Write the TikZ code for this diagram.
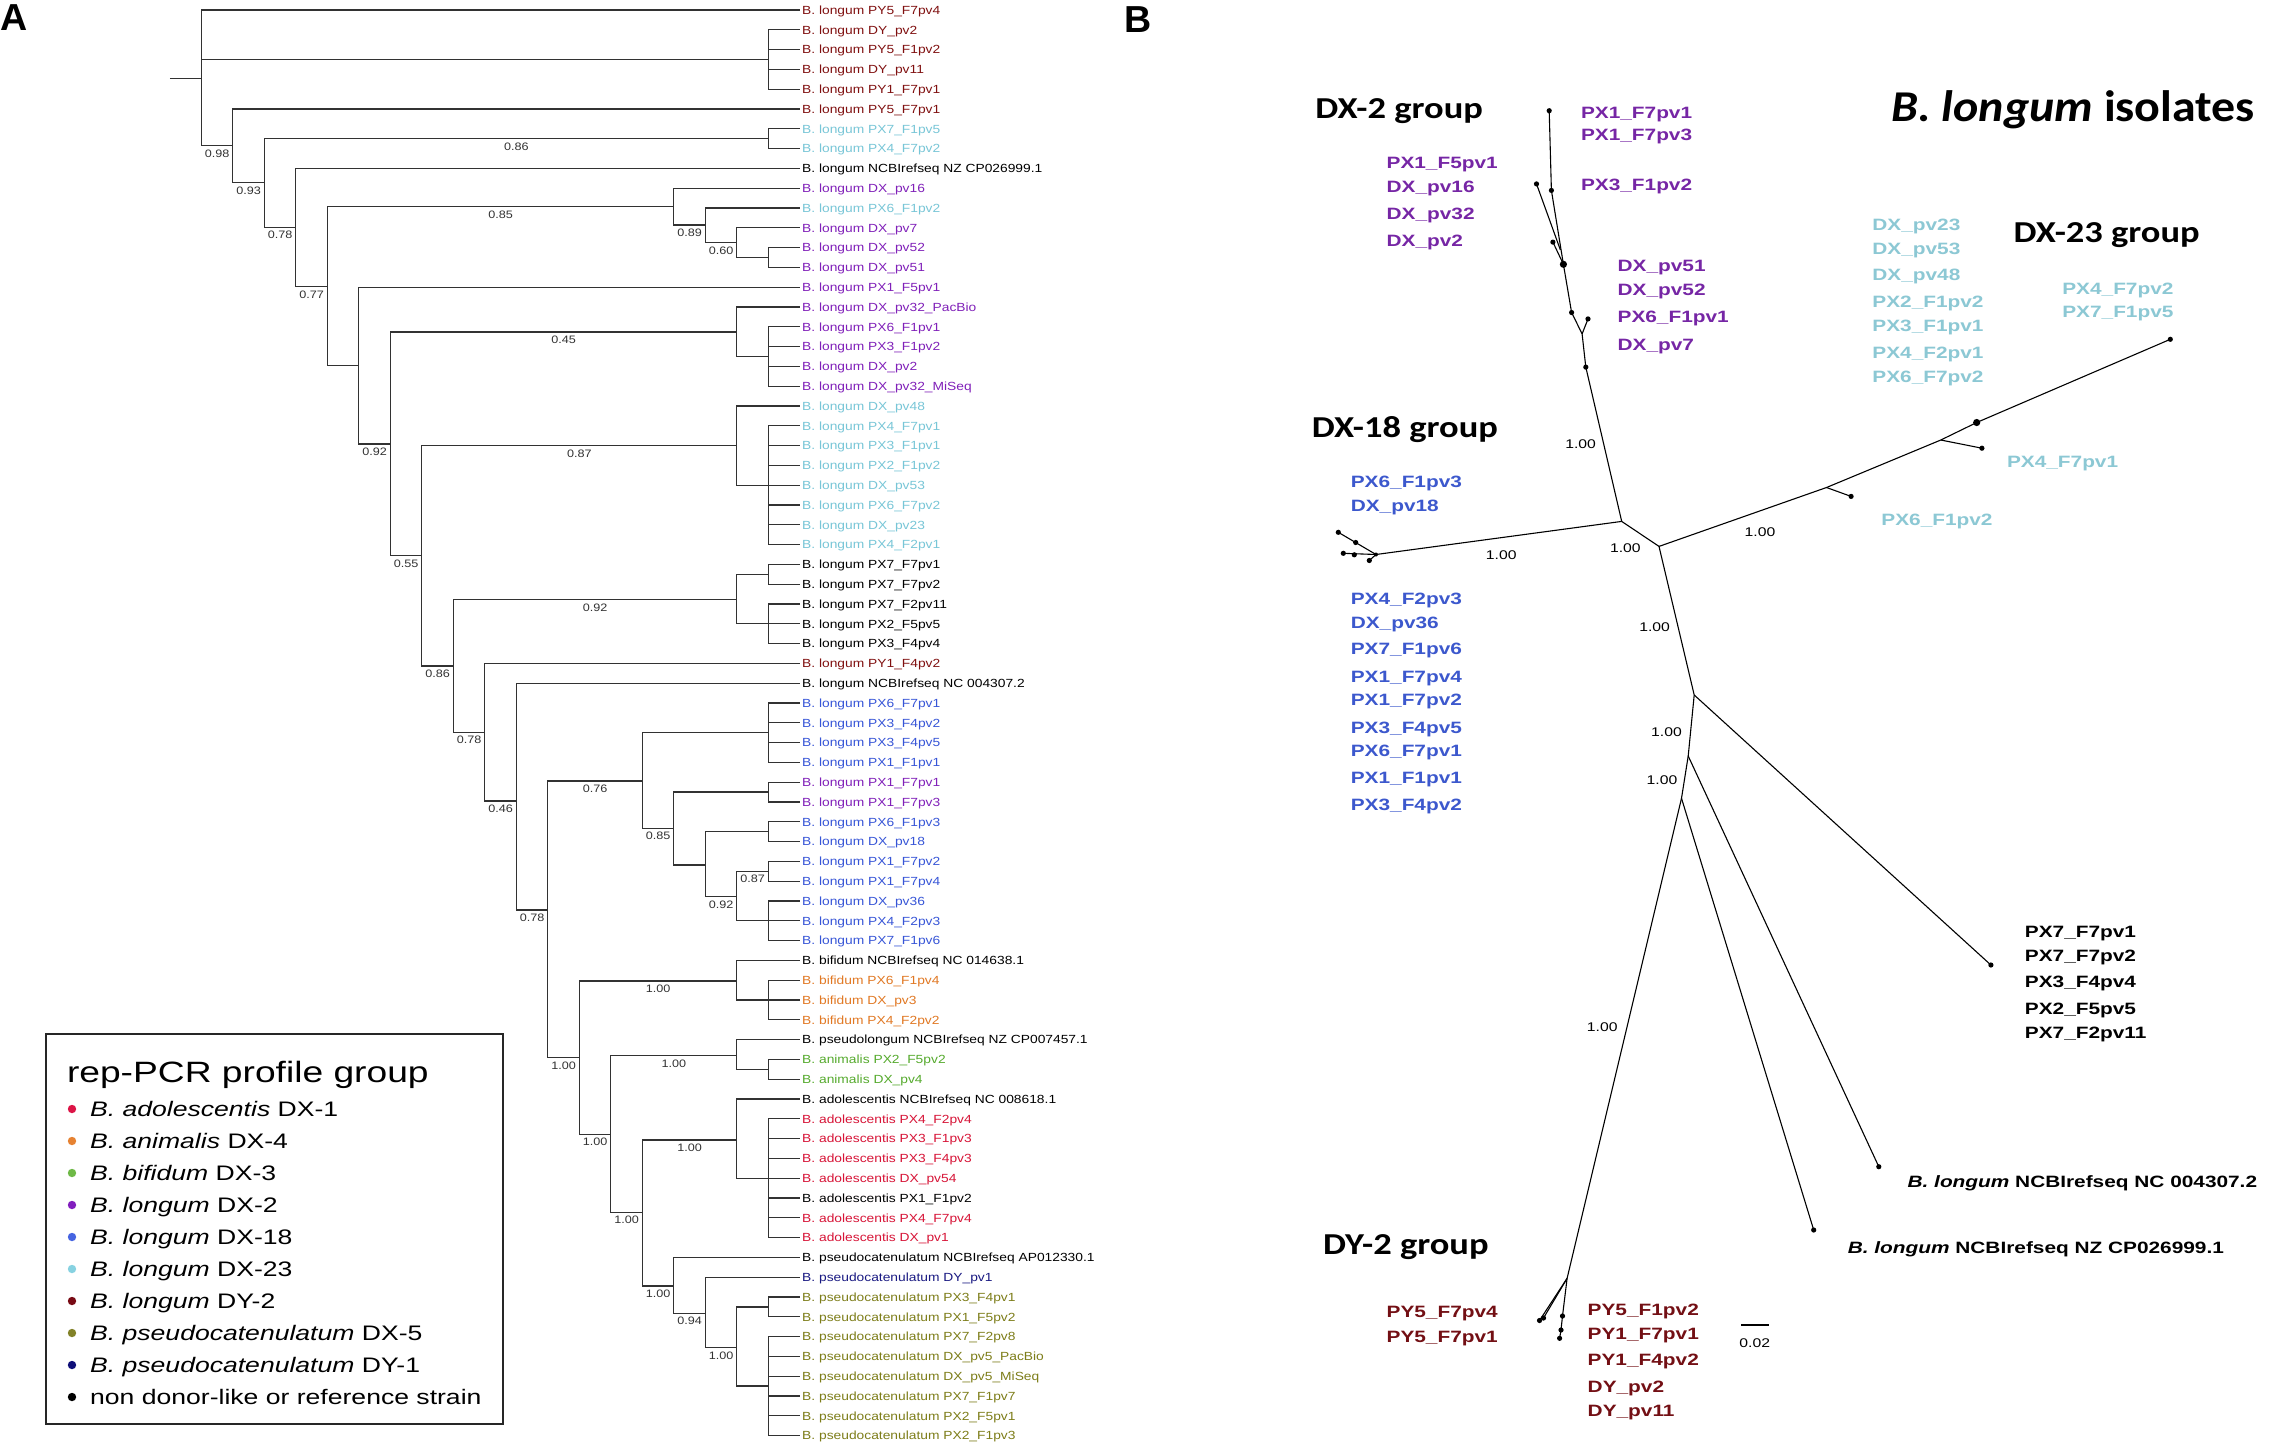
\documentclass[tikz,border=0pt]{standalone}
\usepackage{fontspec}
\setmainfont{Liberation Sans}
\newfontfamily\famPA[FakeStretch=1.17]{Liberation Sans}
\newfontfamily\famLeg[FakeStretch=1.265]{Liberation Sans}
\newfontfamily\famPB[FakeStretch=1.27]{Liberation Sans}
\newfontfamily\famPBn[FakeStretch=1.25]{Liberation Sans}
\newfontfamily\famGrp[FakeStretch=1.2]{Carlito}
\newfontfamily\famTtl[FakeStretch=1.09]{Carlito}
\usetikzlibrary{calc}
\definecolor{brgray}{RGB}{50,50,50}
\definecolor{cDYr}{RGB}{128,16,16}
\definecolor{cLB}{RGB}{120,198,215}
\definecolor{cPu}{RGB}{128,32,185}
\definecolor{cBl}{RGB}{55,85,215}
\definecolor{cOr}{RGB}{225,120,35}
\definecolor{cGr}{RGB}{85,170,45}
\definecolor{cRd}{RGB}{215,20,55}
\definecolor{cOl}{RGB}{125,125,25}
\definecolor{cNv}{RGB}{25,25,130}
\definecolor{cBk}{RGB}{0,0,0}
\definecolor{bPu}{RGB}{118,38,165}
\definecolor{bLB}{RGB}{140,200,212}
\definecolor{bBl}{RGB}{60,88,205}
\definecolor{bDYr}{RGB}{115,15,20}
\definecolor{lRd}{RGB}{220,20,70}
\definecolor{lOr}{RGB}{230,130,50}
\definecolor{lGr}{RGB}{110,185,70}
\definecolor{lPu}{RGB}{130,30,190}
\definecolor{lBl}{RGB}{70,100,225}
\definecolor{lLB}{RGB}{135,210,225}
\definecolor{lDY}{RGB}{120,10,20}
\definecolor{lOl}{RGB}{130,130,40}
\definecolor{lNv}{RGB}{15,15,120}
\tikzset{
  br/.style={draw=brgray,line width=0.65pt},
  bbr/.style={draw=black,line width=0.55pt},
  leafA/.style={anchor=west,inner xsep=1pt,inner ysep=0pt,font=\famPA\fontsize{5.9pt}{6pt}\selectfont,text height=4.22pt,text depth=0pt},
  blA/.style={inner sep=0pt,font=\famPA\fontsize{5.4pt}{6pt}\selectfont,text height=3.87pt,text depth=0pt,text=brgray},
  legE/.style={anchor=west,inner sep=0pt,font=\famLeg\fontsize{10.5pt}{12pt}\selectfont,text height=7.52pt,text depth=0pt},
  legT/.style={anchor=west,inner sep=0pt,font=\famLeg\fontsize{14.7pt}{16pt}\selectfont,text height=10.5pt,text depth=0pt},
  leafB/.style={anchor=west,inner sep=0pt,font=\famPB\bfseries\fontsize{8.2pt}{9pt}\selectfont,text height=5.87pt,text depth=0pt},
  blB/.style={inner sep=0pt,font=\famPBn\fontsize{6.3pt}{7pt}\selectfont,text height=4.5pt,text depth=0pt},
  grp/.style={anchor=west,inner sep=0pt,font=\famGrp\bfseries\fontsize{15.2pt}{16pt}\selectfont,text height=9.6pt,text depth=0pt},
  ttl/.style={anchor=west,inner sep=0pt,font=\famTtl\bfseries\fontsize{22pt}{24pt}\selectfont,text height=13.9pt,text depth=0pt},
  plet/.style={inner sep=0pt,font=\bfseries\fontsize{18.8pt}{20pt}\selectfont,text height=13.46pt,text depth=0pt},
}
\begin{document}
\begin{tikzpicture}[x=0.5pt,y=-0.5pt]
\fill[white] (0,0) rectangle (2272,1447);
\useasboundingbox (0,0) rectangle (2272,1447);

% ---------------- Panel letters
\node[plet] (letA) at (14,17) {A};
\node[plet] (letB) at (1138,19) {B};

% ---------------- Panel A leaves
\foreach \i/\c/\t in {
1/cDYr/B. longum PY5\_F7pv4,
2/cDYr/B. longum DY\_pv2,
3/cDYr/B. longum PY5\_F1pv2,
4/cDYr/B. longum DY\_pv11,
5/cDYr/B. longum PY1\_F7pv1,
6/cDYr/B. longum PY5\_F7pv1,
7/cLB/B. longum PX7\_F1pv5,
8/cLB/B. longum PX4\_F7pv2,
9/cBk/B. longum NCBIrefseq NZ CP026999.1,
10/cPu/B. longum DX\_pv16,
11/cLB/B. longum PX6\_F1pv2,
12/cPu/B. longum DX\_pv7,
13/cPu/B. longum DX\_pv52,
14/cPu/B. longum DX\_pv51,
15/cPu/B. longum PX1\_F5pv1,
16/cPu/B. longum DX\_pv32\_PacBio,
17/cPu/B. longum PX6\_F1pv1,
18/cPu/B. longum PX3\_F1pv2,
19/cPu/B. longum DX\_pv2,
20/cPu/B. longum DX\_pv32\_MiSeq,
21/cLB/B. longum DX\_pv48,
22/cLB/B. longum PX4\_F7pv1,
23/cLB/B. longum PX3\_F1pv1,
24/cLB/B. longum PX2\_F1pv2,
25/cLB/B. longum DX\_pv53,
26/cLB/B. longum PX6\_F7pv2,
27/cLB/B. longum DX\_pv23,
28/cLB/B. longum PX4\_F2pv1,
29/cBk/B. longum PX7\_F7pv1,
30/cBk/B. longum PX7\_F7pv2,
31/cBk/B. longum PX7\_F2pv11,
32/cBk/B. longum PX2\_F5pv5,
33/cBk/B. longum PX3\_F4pv4,
34/cDYr/B. longum PY1\_F4pv2,
35/cBk/B. longum NCBIrefseq NC 004307.2,
36/cBl/B. longum PX6\_F7pv1,
37/cBl/B. longum PX3\_F4pv2,
38/cBl/B. longum PX3\_F4pv5,
39/cBl/B. longum PX1\_F1pv1,
40/cPu/B. longum PX1\_F7pv1,
41/cPu/B. longum PX1\_F7pv3,
42/cBl/B. longum PX6\_F1pv3,
43/cBl/B. longum DX\_pv18,
44/cBl/B. longum PX1\_F7pv2,
45/cBl/B. longum PX1\_F7pv4,
46/cBl/B. longum DX\_pv36,
47/cBl/B. longum PX4\_F2pv3,
48/cBl/B. longum PX7\_F1pv6,
49/cBk/B. bifidum NCBIrefseq NC 014638.1,
50/cOr/B. bifidum PX6\_F1pv4,
51/cOr/B. bifidum DX\_pv3,
52/cOr/B. bifidum PX4\_F2pv2,
53/cBk/B. pseudolongum NCBIrefseq NZ CP007457.1,
54/cGr/B. animalis PX2\_F5pv2,
55/cGr/B. animalis DX\_pv4,
56/cBk/B. adolescentis NCBIrefseq NC 008618.1,
57/cRd/B. adolescentis PX4\_F2pv4,
58/cRd/B. adolescentis PX3\_F1pv3,
59/cRd/B. adolescentis PX3\_F4pv3,
60/cRd/B. adolescentis DX\_pv54,
61/cBk/B. adolescentis PX1\_F1pv2,
62/cRd/B. adolescentis PX4\_F7pv4,
63/cRd/B. adolescentis DX\_pv1,
64/cBk/B. pseudocatenulatum NCBIrefseq AP012330.1,
65/cNv/B. pseudocatenulatum DY\_pv1,
66/cOl/B. pseudocatenulatum PX3\_F4pv1,
67/cOl/B. pseudocatenulatum PX1\_F5pv2,
68/cOl/B. pseudocatenulatum PX7\_F2pv8,
69/cOl/B. pseudocatenulatum DX\_pv5\_PacBio,
70/cOl/B. pseudocatenulatum DX\_pv5\_MiSeq,
71/cOl/B. pseudocatenulatum PX7\_F1pv7,
72/cOl/B. pseudocatenulatum PX2\_F5pv1,
73/cOl/B. pseudocatenulatum PX2\_F1pv3}
{
  \coordinate (t\i) at (799.8,{10+19.8*(\i-1)});
  \node[leafA,text=\c] (L\i) at (t\i) {\t};
}

% ---------------- Panel A internal nodes
\coordinate (rootstub) at (169.8,78.3);
\coordinate (root) at (201.3,78.3);
\coordinate (nDY) at (768.3,59.5);
\coordinate (n098) at (232.8,145.7);
\coordinate (n093) at (264.3,182.7);
\coordinate (n086a) at (768.3,138.7);
\coordinate (n078a) at (295.8,227.3);
\coordinate (n077) at (327.3,286.7);
\coordinate (n085) at (673.8,206.7);
\coordinate (n089) at (705.3,225);
\coordinate (n060) at (736.8,242.7);
\coordinate (n5251) at (768.3,257.5);
\coordinate (nX5) at (358.8,365.7);
\coordinate (n092a) at (390.3,444);
\coordinate (n045) at (736.8,332);
\coordinate (nDX2) at (768.3,356.5);
\coordinate (n055) at (421.8,555.7);
\coordinate (n087) at (736.8,445.7);
\coordinate (nDX23) at (768.3,485.2);
\coordinate (n086b) at (453.3,666);
\coordinate (n092b) at (736.8,599.7);
\coordinate (nPX7a) at (768.3,574.3);
\coordinate (nPX7b) at (768.3,623.8);
\coordinate (n078b) at (484.8,732.3);
\coordinate (n046) at (516.3,801);
\coordinate (n078c) at (547.8,910);
\coordinate (n076) at (642.3,781);
\coordinate (nC18) at (768.3,732.7);
\coordinate (n085b) at (673.8,828.3);
\coordinate (nD18) at (768.3,792.1);
\coordinate (nE18) at (705.3,865);
\coordinate (nF18) at (768.3,831.7);
\coordinate (n092c) at (736.8,896.7);
\coordinate (n087b) at (768.3,871.3);
\coordinate (nG18) at (768.3,920.8);
\coordinate (n100a) at (579.3,1057.7);
\coordinate (n100b) at (736.8,981);
\coordinate (nBif) at (768.3,1000);
\coordinate (n100c) at (610.8,1134.3);
\coordinate (n100d) at (736.8,1055.7);
\coordinate (nAni) at (768.3,1069.3);
\coordinate (n100e) at (642.3,1212.3);
\coordinate (n100f) at (736.8,1140);
\coordinate (nAdo) at (768.3,1178.2);
\coordinate (n100g) at (673.8,1286);
\coordinate (n094) at (705.3,1313.3);
\coordinate (n100h) at (736.8,1347.7);
\coordinate (nPc1) at (768.3,1306.9);
\coordinate (nPc2) at (768.3,1386.1);

\draw[br] (rootstub) -- (root);
\foreach \p/\c in {root/t1,root/nDY,root/n098,n098/t6,n098/n093,n093/n086a,n093/n078a,
  n086a/t7,n086a/t8,n078a/t9,n078a/n077,n077/n085,n077/nX5,n085/t10,n085/n089,
  n089/t11,n089/n060,n060/t12,n060/n5251,n5251/t13,n5251/t14,nX5/t15,nX5/n092a,
  n092a/n045,n092a/n055,n045/t16,n045/nDX2,n055/n087,n055/n086b,n087/t21,n087/nDX23,
  n086b/n092b,n086b/n078b,n092b/nPX7a,n092b/nPX7b,nPX7a/t29,nPX7a/t30,
  n078b/t34,n078b/n046,n046/t35,n046/n078c,n078c/n076,n078c/n100a,n076/nC18,n076/n085b,
  n085b/nD18,n085b/nE18,nD18/t40,nD18/t41,nE18/nF18,nE18/n092c,nF18/t42,nF18/t43,
  n092c/n087b,n092c/nG18,n087b/t44,n087b/t45,n100a/n100b,n100a/n100c,n100b/t49,n100b/nBif,
  n100c/n100d,n100c/n100e,n100d/t53,n100d/nAni,nAni/t54,nAni/t55,n100e/n100f,n100e/n100g,
  n100f/t56,n100f/nAdo,n100g/t64,n100g/n094,n094/t65,n094/n100h,n100h/nPc1,n100h/nPc2,
  nPc1/t66,nPc1/t67}
  \draw[br] (\p) |- (\c);
\foreach \j in {2,...,5} \draw[br] (nDY) |- (t\j);
\foreach \j in {17,...,20} \draw[br] (nDX2) |- (t\j);
\foreach \j in {22,...,28} \draw[br] (nDX23) |- (t\j);
\foreach \j in {31,...,33} \draw[br] (nPX7b) |- (t\j);
\foreach \j in {36,...,39} \draw[br] (nC18) |- (t\j);
\foreach \j in {46,...,48} \draw[br] (nG18) |- (t\j);
\foreach \j in {50,...,52} \draw[br] (nBif) |- (t\j);
\foreach \j in {57,...,63} \draw[br] (nAdo) |- (t\j);
\foreach \j in {68,...,73} \draw[br] (nPc2) |- (t\j);

% branch support labels (panel A)
\foreach \nd/\pa/\tx in {n098/root/0.98,n093/n098/0.93,n086a/n093/0.86,n078a/n093/0.78,
  n077/n078a/0.77,n085/n077/0.85,n089/n085/0.89,n060/n089/0.60,n092a/nX5/0.92,
  n045/n092a/0.45,n055/n092a/0.55,n087/n055/0.87,n086b/n055/0.86,n092b/n086b/0.92,
  n078b/n086b/0.78,n046/n078b/0.46,n078c/n046/0.78,n076/n078c/0.76,n085b/n076/0.85,
  n092c/nE18/0.92,n087b/n092c/0.87,n100a/n078c/1.00,n100b/n100a/1.00,n100c/n100a/1.00,
  n100d/n100c/1.00,n100e/n100c/1.00,n100f/n100e/1.00,n100g/n100e/1.00,n094/n100g/0.94,
  n100h/n094/1.00}
  \node[blA] (lab\nd) at ($(\pa |- \nd)!0.5!(\nd)+(0,7.5)$) {\tx};

% ---------------- Legend
\draw[line width=1.1pt,draw=black!85] (45.6,1034) rectangle (503,1424.3);
\node[legT] (legtitle) at (66.6,1071.7) {rep-PCR profile group};
\foreach \n/\y/\c/\t in {
1/1109/lRd/{\itshape B. adolescentis} DX-1,
2/1141/lOr/{\itshape B. animalis} DX-4,
3/1173/lGr/{\itshape B. bifidum} DX-3,
4/1205/lPu/{\itshape B. longum} DX-2,
5/1237/lBl/{\itshape B. longum} DX-18,
6/1269/lLB/{\itshape B. longum} DX-23,
7/1301/lDY/{\itshape B. longum} DY-2,
8/1333/lOl/{\itshape B. pseudocatenulatum} DX-5,
9/1365/lNv/{\itshape B. pseudocatenulatum} DY-1,
10/1397/black/non donor-like or reference strain}
{
  \fill[\c] (72,\y) circle[radius=2.1pt];
  \node[legE] (leg\n) at (89.8,\y) {\t};
}

% ---------------- Panel B titles
\node[ttl] (title) at (1890.7,107.5) {{\itshape B. longum} isolates};
\node[grp] (g2) at (1315,109) {DX-2 group};
\node[grp] (g18) at (1311.5,427.7) {DX-18 group};
\node[grp] (g23) at (2013.3,232.7) {DX-23 group};
\node[grp] (gY2) at (1322.7,1245) {DY-2 group};

% ---------------- Panel B tree
\coordinate (pA) at (1621.7,521.4);
\coordinate (pB) at (1659,546.4);
\coordinate (pC) at (1694.2,695);
\coordinate (pD) at (1688.2,756);
\coordinate (pE) at (1681.5,798.3);
% DX-2
\coordinate (m1) at (1549.2,110.7);
\coordinate (m2) at (1551.4,190.4);
\coordinate (s2) at (1536.5,183.9);
\coordinate (j2) at (1560.4,250);
\coordinate (m3) at (1552.9,242.1);
\coordinate (m4) at (1563.4,264.3);
\coordinate (m5) at (1571.6,312.5);
\coordinate (s5) at (1588,318.9);
\coordinate (j5) at (1582.1,333.9);
\coordinate (m6) at (1585.8,367.1);
% DX-18
\coordinate (q0) at (1376,554.5);
\coordinate (q1) at (1338.3,532.3);
\coordinate (q2) at (1355.7,542.5);
\coordinate (q3) at (1343.3,553.3);
\coordinate (q4) at (1354.3,554.8);
\coordinate (q5) at (1369.3,560.5);
% DX-23
\coordinate (r1) at (1826.5,487.5);
\coordinate (r1s) at (1851.1,496.4);
\coordinate (r2) at (1940.8,440);
\coordinate (r2s) at (1981.9,448.2);
\coordinate (r3) at (1976.7,422.5);
\coordinate (r4) at (2170.3,339.3);
% others
\coordinate (u1) at (1990.9,965);
\coordinate (v1) at (1878.8,1166.7);
\coordinate (w1) at (1813.7,1230);
\coordinate (z0) at (1567.1,1278.3);
\coordinate (z1) at (1539.5,1320.5);
\coordinate (z1b) at (1543.5,1318);
\coordinate (z2) at (1562.5,1316);
\coordinate (z3) at (1561,1330);
\coordinate (z4) at (1559.6,1338.3);

\draw[bbr] (m1) -- (m2) -- (m4) -- (m5) -- (j5) -- (m6) -- (pA);
\draw[bbr] (s2) -- (j2);
\draw[bbr] (m3) -- (m4);
\draw[bbr] (s5) -- (j5);
\draw[bbr] (pA) -- (q0);
\draw[bbr] (q0) -- (q1);
\draw[bbr] (q0) -- (q3);
\draw[bbr] (q0) -- (q5);
\draw[bbr] (pA) -- (pB);
\draw[bbr] (pB) -- (r1) -- (r2) -- (r3) -- (r4);
\draw[bbr] (r1) -- (r1s);
\draw[bbr] (r2) -- (r2s);
\draw[bbr] (pB) -- (pC) -- (pD) -- (pE);
\draw[bbr] (pC) -- (u1);
\draw[bbr] (pD) -- (v1);
\draw[bbr] (pE) -- (w1);
\draw[bbr] (pE) -- (z0);
\draw[bbr] (z0) -- (z1);
\draw[bbr] (z0) -- (z1b);
\draw[bbr] (z0) -- (z2) -- (z3) -- (z4);
\foreach \d in {m1,m2,s2,m3,m5,s5,m6,q1,q2,q3,q4,q5,r1s,r2s,r4,u1,v1,w1,z1,z1b,z2,z3,z4}
  \fill (\d) circle[radius=1.3pt];
\fill (m4) circle[radius=1.8pt];
\fill (r3) circle[radius=1.8pt];
\fill (q0) circle[radius=1pt];

% support labels panel B
\node[blB] (b1) at (1580.6,443.6) {1.00};
\node[blB] (b2) at (1501.3,555) {1.00};
\node[blB] (b3) at (1625.4,548.3) {1.00};
\node[blB] (b4) at (1760,532.1) {1.00};
\node[blB] (b5) at (1654.6,626.7) {1.00};
\node[blB] (b6) at (1666.5,732.3) {1.00};
\node[blB] (b7) at (1662,780) {1.00};
\node[blB] (b8) at (1602.2,1026.7) {1.00};

% scale bar
\coordinate (sb1) at (1741.3,1325);
\coordinate (sb2) at (1768.9,1325);
\draw[line width=1.1pt] (sb1) -- (sb2);
\node[blB] (sbl) at (1754.7,1343.3) {0.02};

% ---------------- Panel B leaf labels
\foreach \x/\y/\c/\t [count=\n] in {
1580.6/112.5/bPu/PX1\_F7pv1,
1580.6/135/bPu/PX1\_F7pv3,
1386.2/163/bPu/PX1\_F5pv1,
1386.2/186.5/bPu/DX\_pv16,
1386.2/214/bPu/DX\_pv32,
1386.2/241/bPu/DX\_pv2,
1580.6/185/bPu/PX3\_F1pv2,
1617.2/266/bPu/DX\_pv51,
1617.2/290/bPu/DX\_pv52,
1617.2/317/bPu/PX6\_F1pv1,
1617.2/344.5/bPu/DX\_pv7,
1872/225/bLB/DX\_pv23,
1872/248.5/bLB/DX\_pv53,
1872/275/bLB/DX\_pv48,
1872/302/bLB/PX2\_F1pv2,
1872/326/bLB/PX3\_F1pv1,
1872/352.5/bLB/PX4\_F2pv1,
1872/376.5/bLB/PX6\_F7pv2,
2061.9/288.5/bLB/PX4\_F7pv2,
2061.9/311.5/bLB/PX7\_F1pv5,
2006.6/462/bLB/PX4\_F7pv1,
1881/519.5/bLB/PX6\_F1pv2,
1350.4/482/bBl/PX6\_F1pv3,
1350.4/505.5/bBl/DX\_pv18,
1350.4/599/bBl/PX4\_F2pv3,
1350.4/622.5/bBl/DX\_pv36,
1350.4/649/bBl/PX7\_F1pv6,
1350.4/676.5/bBl/PX1\_F7pv4,
1350.4/700/bBl/PX1\_F7pv2,
1350.4/727.5/bBl/PX3\_F4pv5,
1350.4/750.5/bBl/PX6\_F7pv1,
1350.4/778/bBl/PX1\_F1pv1,
1350.4/805/bBl/PX3\_F4pv2,
2024.5/931.5/black/PX7\_F7pv1,
2024.5/955.5/black/PX7\_F7pv2,
2024.5/982/black/PX3\_F4pv4,
2024.5/1009/black/PX2\_F5pv5,
2024.5/1033/black/PX7\_F2pv11,
1386.2/1312/bDYr/PY5\_F7pv4,
1386.2/1336.5/bDYr/PY5\_F7pv1,
1587.3/1310/bDYr/PY5\_F1pv2,
1587.3/1334/bDYr/PY1\_F7pv1,
1587.3/1360/bDYr/PY1\_F4pv2,
1587.3/1386.5/bDYr/DY\_pv2,
1587.3/1410.5/bDYr/DY\_pv11}
  \node[leafB,text=\c] (bl\n) at (\x,\y) {\t};
\node[leafB] (ref1) at (1907.2,1182) {{\itshape B. longum} NCBIrefseq NC 004307.2};
\node[leafB] (ref2) at (1847.4,1248) {{\itshape B. longum} NCBIrefseq NZ CP026999.1};
\end{tikzpicture}
\end{document}
